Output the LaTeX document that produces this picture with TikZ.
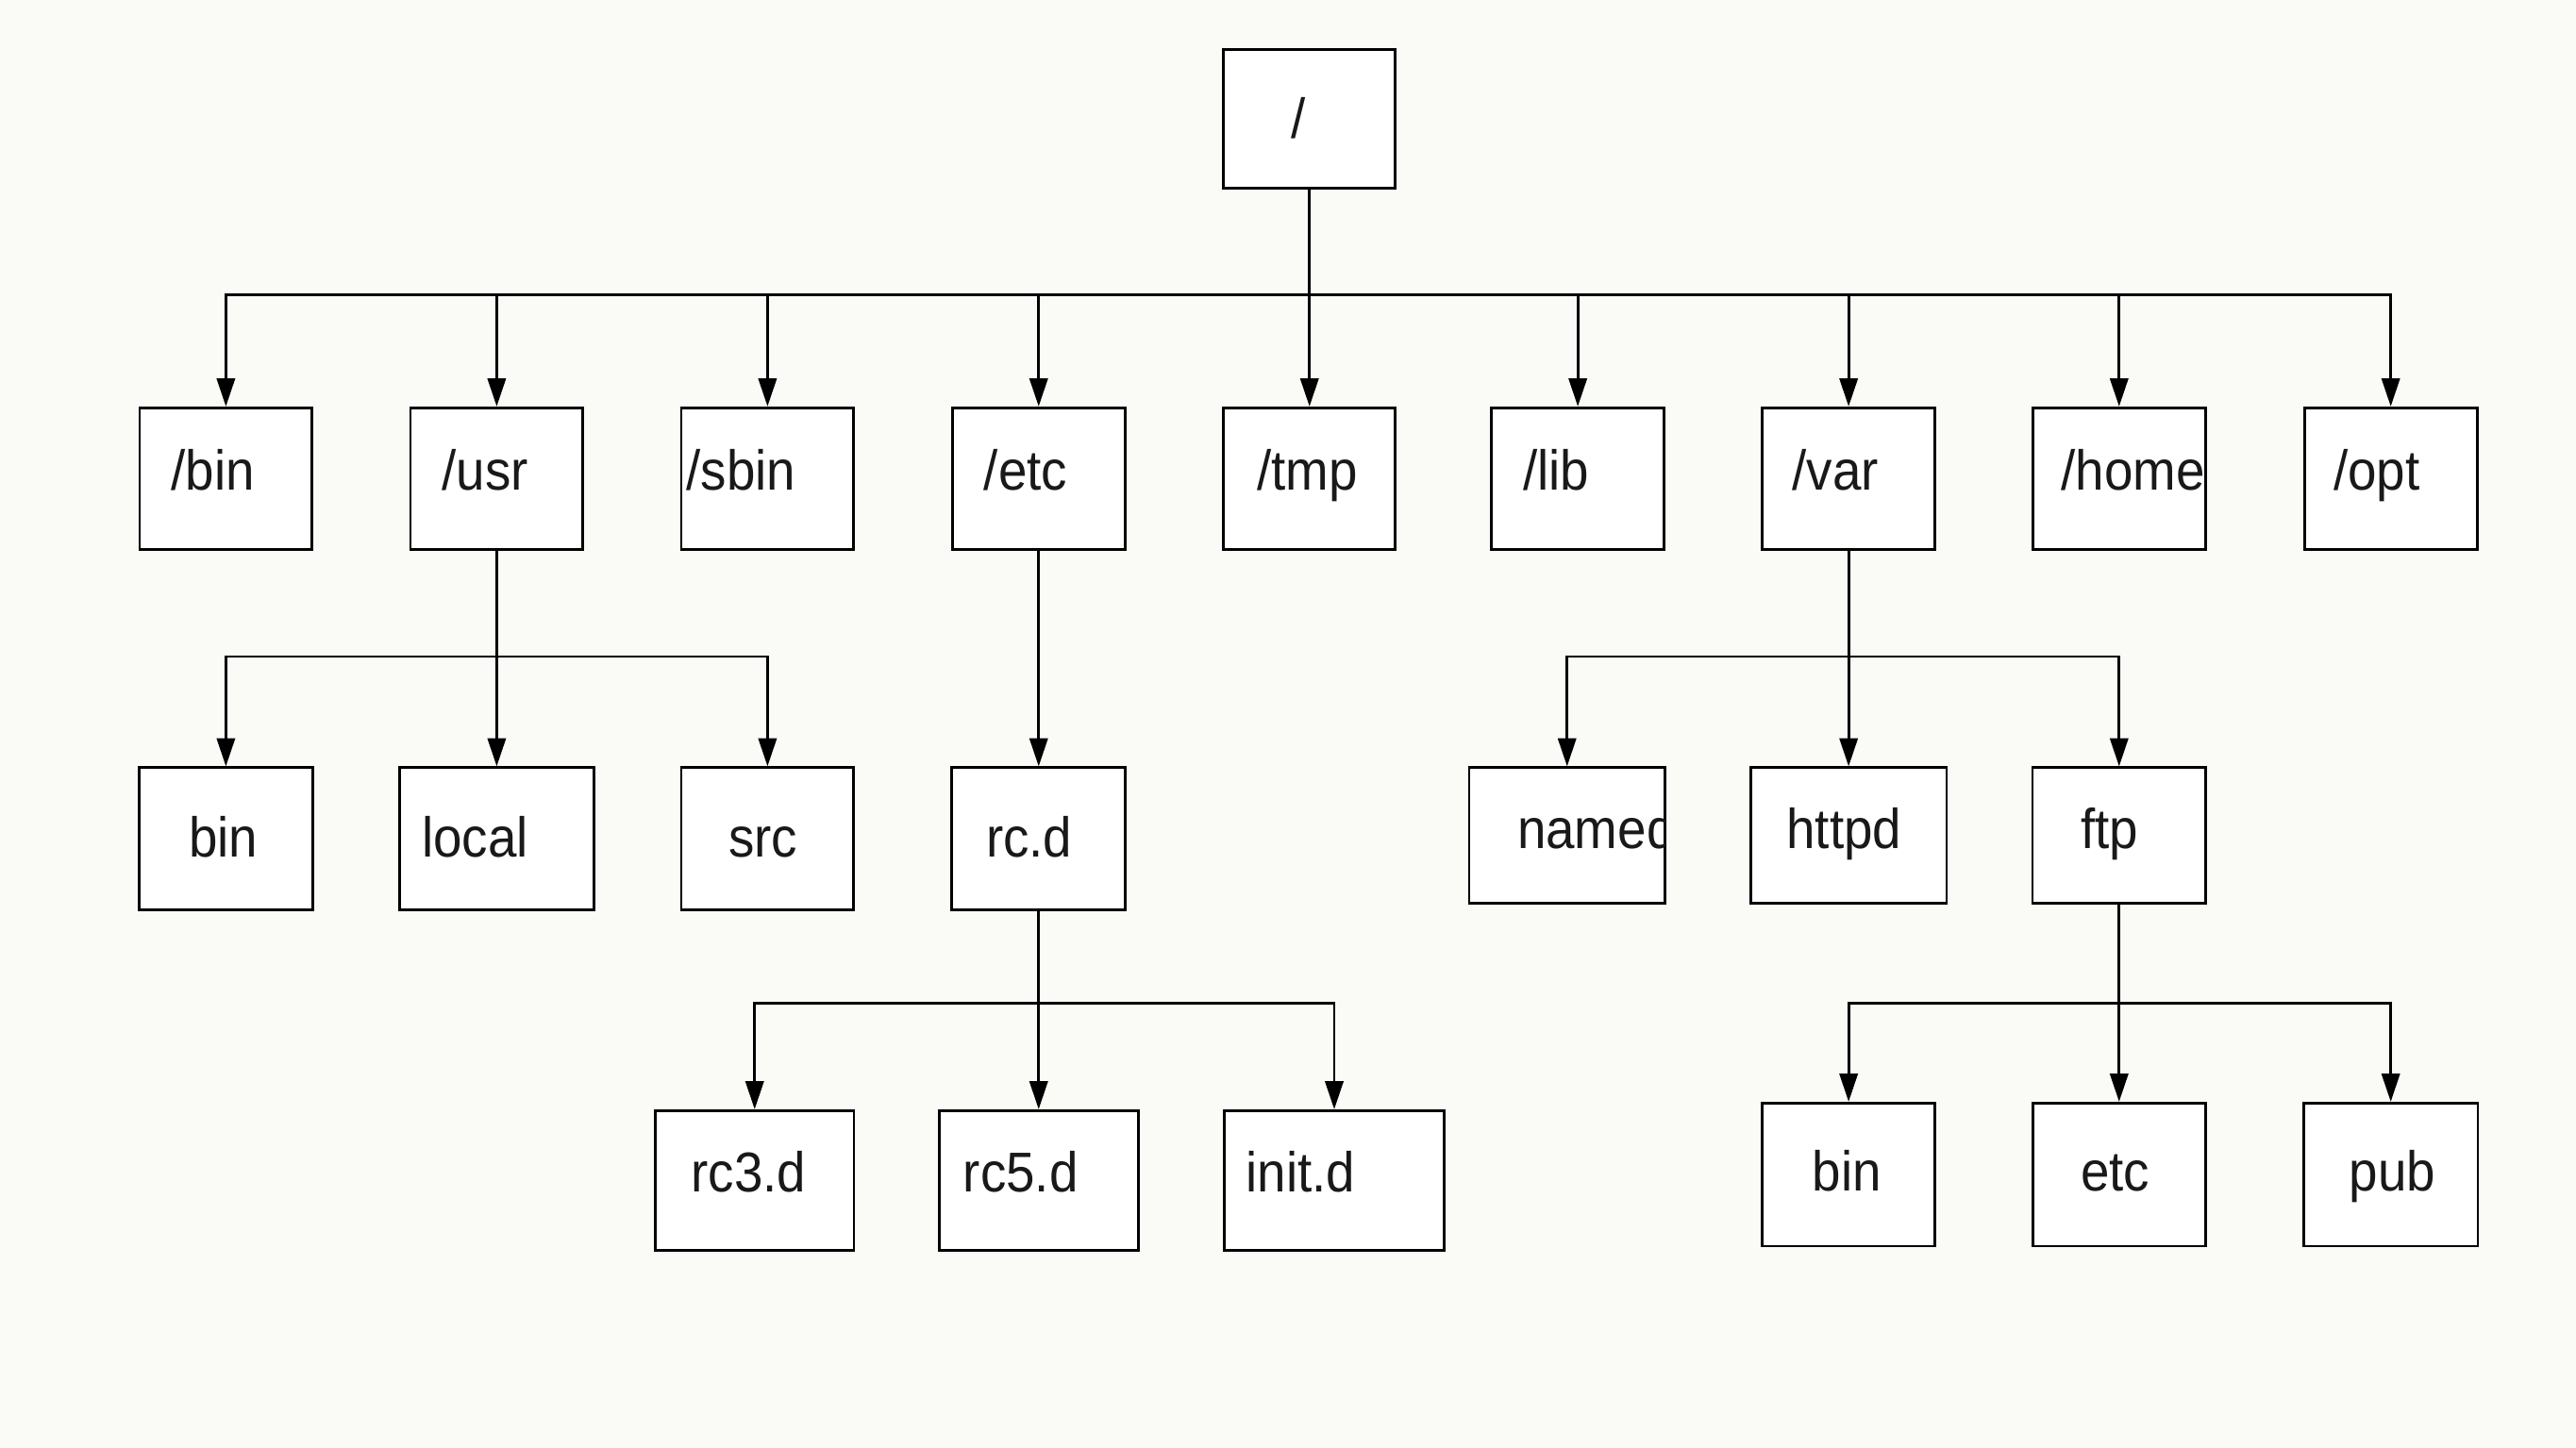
\documentclass[tikz,border=0pt]{standalone}
\usepackage{fontspec}
\newfontfamily\lblfont[FakeStretch=0.92]{Liberation Sans}
\usetikzlibrary{arrows.meta,calc}
\definecolor{bgcol}{RGB}{250,250,247}
\tikzset{
  fsbox/.style={draw=black, line width=1.6pt, fill=white, inner sep=0pt, rectangle},
  lbl/.style={inner sep=0pt, outer sep=0pt, font=\lblfont\fontsize{34}{40}\selectfont, text=black!90},
  conn/.style={draw=black, line width=1.6pt},
  arr/.style={conn, -{Triangle[length=17pt,width=11pt]}},
}
% name, cx, cy, w, h, text inset, baseline offset, text
\newcommand\fsnode[8]{%
  \node[fsbox, minimum width=#4pt, minimum height=#5pt] (#1) at (#2,#3) {};
  \begin{scope}
    \clip ([shift={(0.8pt,0.8pt)}]#1.south west) rectangle ([shift={(-0.8pt,-0.8pt)}]#1.north east);
    \node[lbl, anchor=base west] at ($(#1.west)+(#6,#7)$) {#8};
  \end{scope}}
\begin{document}
\begin{tikzpicture}[x=1pt,y=-1pt]
\fill[bgcol] (0,0) rectangle (1560,877.14);
\useasboundingbox (0,0) rectangle (1560,877.14);

% root
\fsnode{root}{793}{72}{104}{84}{42}{12}{/}
% level 1
\fsnode{bin}{136.8}{290}{104.5}{86}{20}{7}{/bin}
\fsnode{usr}{300.8}{290}{104.5}{86}{20}{7}{/usr}
\fsnode{sbin}{464.8}{290}{104.5}{86}{4}{7}{/sbin}
\fsnode{etc}{629}{290}{104.5}{86}{20}{7}{/etc}
\fsnode{tmp}{793}{290}{104}{86}{21}{7}{/tmp}
\fsnode{lib}{955.5}{290}{104.5}{86}{20}{7}{/lib}
\fsnode{var}{1119.5}{290}{104.5}{86}{19}{7}{/var}
\fsnode{home}{1283.3}{290}{104.5}{86}{18}{7}{/home}
\fsnode{opt}{1447.8}{290}{104.5}{86}{18.5}{7}{/opt}
% level 2
\fsnode{ubin}{136.8}{508}{105}{86}{31}{11}{bin}
\fsnode{local}{300.8}{508}{117.7}{86}{14.5}{11}{local}
\fsnode{src}{464.8}{508}{104.4}{86}{29.5}{11}{src}
\fsnode{rcd}{629}{508}{105}{86}{21.5}{11}{rc.d}
\fsnode{named}{949}{506}{118.6}{82}{30}{8}{named}
\fsnode{httpd}{1119.5}{506}{118.6}{82}{22.5}{8}{httpd}
\fsnode{ftp}{1283.3}{506}{105}{82}{30}{8}{ftp}
% level 3
\fsnode{rcthree}{457}{715}{120.2}{84.5}{22.5}{7}{rc3.d}
\fsnode{rcfive}{629}{715}{120.6}{84.5}{15.5}{7}{rc5.d}
\fsnode{initd}{808}{715}{133.3}{84.5}{14}{7}{init.d}
\fsnode{fbin}{1119.5}{711.5}{104.3}{86.7}{31}{10}{bin}
\fsnode{fetc}{1283.3}{711.5}{104.7}{86.7}{30}{10}{etc}
\fsnode{pub}{1447.8}{711.5}{105.6}{86.7}{28.5}{10}{pub}

% junctions
\coordinate (jroot) at (793,178.5);
\coordinate (jusr) at (300.8,397.7);
\coordinate (jvar) at (1119.5,397.7);
\coordinate (jrcd) at (629,607.6);
\coordinate (jftp) at (1283.3,607.6);

% root connectors
\draw[conn] (root.south) -- (jroot);
\foreach \c in {bin,usr,sbin,etc,tmp,lib,var,home,opt}
  \draw[arr] (jroot) -| (\c.north);
% /usr
\draw[conn] (usr.south) -- (jusr);
\foreach \c in {ubin,local,src}
  \draw[arr] (jusr) -| (\c.north);
% /etc
\draw[arr] (etc.south) -- (rcd.north);
% rc.d
\draw[conn] (rcd.south) -- (jrcd);
\foreach \c in {rcthree,rcfive,initd}
  \draw[arr] (jrcd) -| (\c.north);
% /var
\draw[conn] (var.south) -- (jvar);
\foreach \c in {named,httpd,ftp}
  \draw[arr] (jvar) -| (\c.north);
% ftp
\draw[conn] (ftp.south) -- (jftp);
\foreach \c in {fbin,fetc,pub}
  \draw[arr] (jftp) -| (\c.north);
\end{tikzpicture}
\end{document}
